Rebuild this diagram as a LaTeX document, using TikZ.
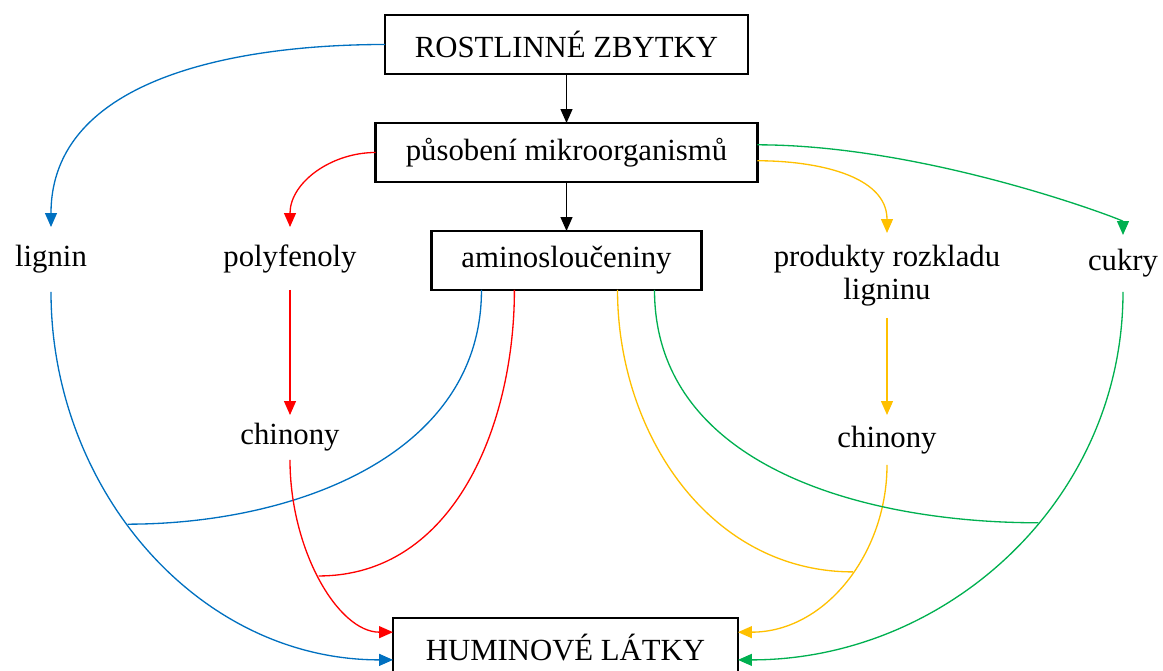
\documentclass[tikz,border=0pt]{standalone}
\usepackage{fontspec}
\setmainfont{Liberation Serif}
\usetikzlibrary{arrows.meta, positioning, calc}
\definecolor{ligblue}{RGB}{0, 112, 192}
\definecolor{polred}{RGB}{255, 0, 0}
\definecolor{rozyellow}{RGB}{255, 192, 0}
\definecolor{cukgreen}{RGB}{0, 176, 80}

\begin{document}
\begin{tikzpicture}[
  x=0.02cm, y=0.02cm,
  box/.style={rectangle, draw, line width=1.2pt, minimum height=1.18cm, inner sep=0pt, outer sep=0pt, align=center, font=\fontsize{17.5}{21}\selectfont},
  lbl/.style={inner sep=0pt, outer sep=0pt, align=center, font=\fontsize{17.5}{19}\selectfont},
  flow/.style={line width=0.75pt, -{Triangle[length=0.28cm, width=0.24cm]}},
  feed/.style={line width=0.75pt},
]
  \useasboundingbox (0,0) rectangle (1163,-671);

  \node[box, minimum width=7.26cm] (rost) at (566.5,-44.5) {ROSTLINNÉ ZBYTKY};
  \node[box, minimum width=7.64cm] (pusob) at (566.5,-152.5) {působení mikroorganismů};
  \node[box, minimum width=5.4cm] (amino) at (566.5,-260.5) {aminosloučeniny};
  \node[box, minimum width=6.9cm] (humin) at (565.5,-647.5) {HUMINOVÉ LÁTKY};

  \node[lbl, minimum height=1.3cm] (lignin) at (51,-259.5) {lignin};
  \node[lbl, minimum height=1.26cm] (polyf) at (290,-258.5) {polyfenoly};
  \node[lbl, minimum height=1.7cm] (produkty) at (887,-275.5) {produkty rozkladu\\ligninu};
  \node[lbl, minimum height=1.14cm] (cukry) at (1123,-263.5) {cukry};
  \node[lbl, minimum height=0.9cm] (chinL) at (290,-437.5) {chinony};
  \node[lbl, minimum height=1.0cm] (chinR) at (887,-440) {chinony};

  \draw[flow] (rost.south) -- (pusob.north);
  \draw[flow] (pusob.south) -- (amino.north);

  \draw[flow, ligblue] (rost.west) to[out=180, in=90] (lignin.north);
  \draw[flow, ligblue] (lignin.south) to[out=-90, in=180] coordinate[pos=0.44] (bjoin) ($(humin.north west)!0.71!(humin.south west)$);
  \draw[feed, ligblue] ($(amino.south west)!0.185!(amino.south east)$) to[out=-90, in=0] (bjoin);

  \draw[flow, polred] (pusob.west) to[out=180, in=90] (polyf.north);
  \draw[flow, polred] (polyf.south) -- (chinL.north);
  \draw[flow, polred] (chinL.south) to[out=-90, in=180, out distance=1.8cm, in distance=1.1cm] coordinate[pos=0.48] (rjoin) ($(humin.north west)!0.24!(humin.south west)$);
  \draw[feed, polred] ($(amino.south west)!0.307!(amino.south east)$) to[out=-90, in=0] (rjoin);

  \draw[flow, rozyellow] ($(pusob.north east)!0.64!(pusob.south east)$) to[out=0, in=90] (produkty.north);
  \draw[flow, rozyellow] (produkty.south) -- (chinR.north);
  \draw[flow, rozyellow] (chinR.south) to[out=-90, in=0] coordinate[pos=0.45] (yjoin) ($(humin.north east)!0.24!(humin.south east)$);
  \draw[feed, rozyellow] ($(amino.south west)!0.689!(amino.south east)$) to[out=-90, in=180] (yjoin);

  \draw[flow, cukgreen] ($(pusob.north east)!0.37!(pusob.south east)$) to[out=0, in=90, out distance=3.4cm, in distance=0.3cm] (cukry.north);
  \draw[flow, cukgreen] (cukry.south) to[out=-90, in=0] coordinate[pos=0.425] (gjoin) ($(humin.north east)!0.71!(humin.south east)$);
  \draw[feed, cukgreen] ($(amino.south west)!0.826!(amino.south east)$) to[out=-90, in=180] (gjoin);
\end{tikzpicture}
\end{document}
